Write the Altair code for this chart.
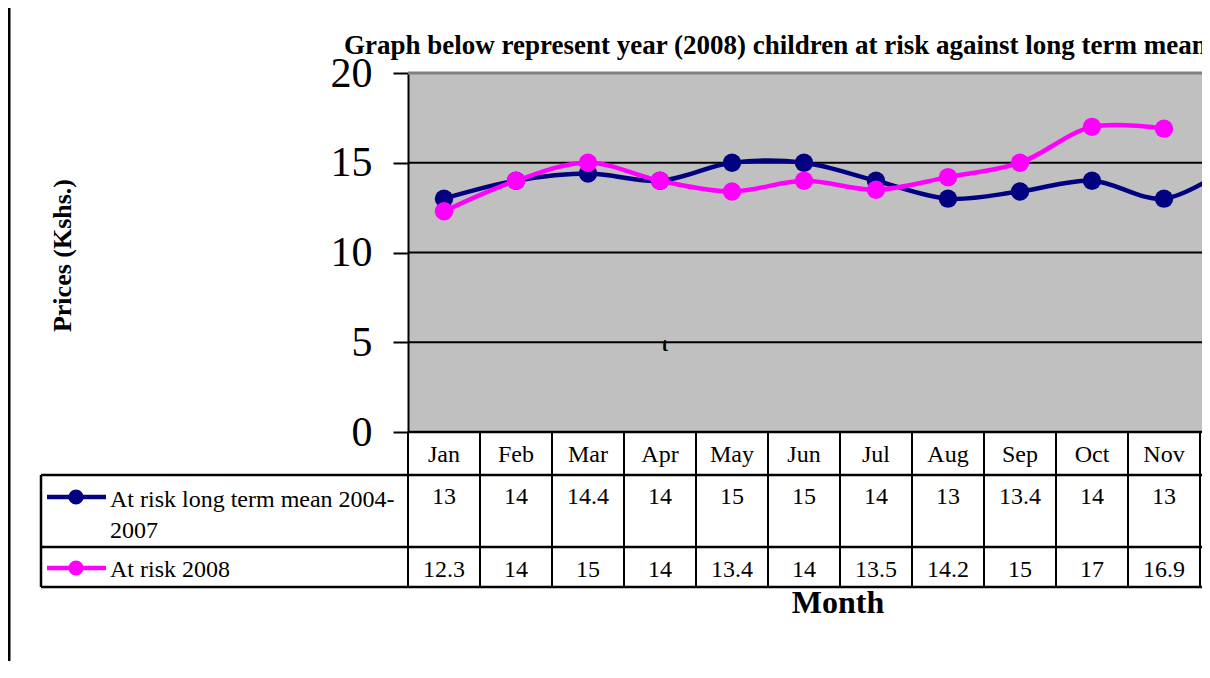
import altair as alt
import pandas as pd

# ---------------- data ----------------
months = ["Jan", "Feb", "Mar", "Apr", "May", "Jun", "Jul", "Aug", "Sep", "Oct", "Nov", "Dec"]
series_names = ["At risk long term mean 2004-2007", "At risk 2008"]
legend_lines = [["At risk long term mean 2004-", "2007"], ["At risk 2008"]]
long_term = [13, 14, 14.4, 14, 15, 15, 14, 13, 13.4, 14, 13, 15]
risk_2008 = [12.3, 14, 15, 14, 13.4, 14, 13.5, 14.2, 15, 17, 16.9]
series_colors = ["#000080", "#FF00FF"]
y_ticks = [0, 5, 10, 15, 20]
grid_vals = [5, 10, 15]
top_val = [20]
chart_title = "Graph below represent year (2008) children at risk against long term mean"
x_title = "Month"
y_title = "Prices (Kshs.)"
stray_text = "t"

# ---------------- layout ----------------
W, H = 794, 359
COLW = 72
FONT = "Liberation Serif"
x_scale = alt.Scale(domain=[0.5, 0.5 + W / COLW], nice=False, zero=False)
y_scale = alt.Scale(domain=[0, 20], nice=False, zero=True)
n_visible = int(W // COLW)  # columns whose text fits inside the visible area

y_axis = alt.Axis(values=y_ticks, title=y_title, titleFont=FONT, titleFontSize=26,
                  titleFontWeight="bold", titleColor="black", titleAngle=270,
                  titleX=-346, titleY=182, titleAlign="center", titleBaseline="middle",
                  labelFont=FONT, labelFontSize=42, labelColor="black", labelPadding=21,
                  tickSize=15, tickWidth=2, tickColor="black",
                  domainColor="black", domainWidth=2, grid=False)
Y = alt.Y("value:Q", scale=y_scale, axis=y_axis)
X = alt.X("idx:Q", scale=x_scale, axis=None)


def series_df(vals):
    return pd.DataFrame({"idx": list(range(1, len(vals) + 1)),
                         "month": months[:len(vals)],
                         "value": vals,
                         "label": [str(v) for v in vals]})


df_lt = series_df(long_term)
df_08 = series_df(risk_2008)
df_months = pd.DataFrame({"idx": list(range(1, len(months) + 1)), "month": months})
df_bounds = pd.DataFrame({"b": [i + 0.5 for i in range(len(months) + 1)]})


def visible(df):
    return df[df["idx"] <= n_visible]


def one():
    return pd.DataFrame({"k": [0]})


layers = []

# gridlines (carry the y axis)
layers.append(
    alt.Chart(pd.DataFrame({"value": grid_vals})).mark_rule(color="black", strokeWidth=2).encode(
        y=Y, x=alt.value(0), x2=alt.value(W))
)
# top border of plot area
layers.append(
    alt.Chart(pd.DataFrame({"value": top_val})).mark_rule(color="#808080", strokeWidth=3).encode(
        y=Y, x=alt.value(0), x2=alt.value(W))
)

# stray "t"
layers.append(
    alt.Chart(pd.DataFrame({"s": [stray_text]})).mark_text(
        font=FONT, fontSize=19, fontWeight="bold", color="black", align="center", baseline="middle"
    ).encode(text="s:N", x=alt.value(257), y=alt.value(272))
)

# series
for df, col in [(df_lt, series_colors[0]), (df_08, series_colors[1])]:
    base = alt.Chart(df).encode(x=X, y=Y)
    layers.append(base.mark_line(color=col, strokeWidth=4.5, interpolate="catmull-rom", clip=True))
    layers.append(base.mark_point(color=col, filled=True, opacity=1, size=340, shape="circle", clip=True))

# ---------------- data table ----------------
ROW_TOP = H            # 432 page
ROW1_TOP = 402         # 475 page
ROW2_TOP = 474         # 547 page
ROW_BOT = 514          # 587 page
TABLE_LEFT = -367      # 41 page

layers.append(
    alt.Chart(df_bounds).mark_rule(color="black", strokeWidth=2).encode(
        x=alt.X("b:Q", scale=x_scale, axis=None), y=alt.value(ROW_TOP), y2=alt.value(ROW_BOT + 1))
)
layers.append(
    alt.Chart(one()).mark_rule(color="black", strokeWidth=2.5).encode(
        x=alt.value(0), x2=alt.value(W), y=alt.value(ROW_TOP))
)
for yy in [ROW1_TOP, ROW2_TOP, ROW_BOT]:
    layers.append(
        alt.Chart(one()).mark_rule(color="black", strokeWidth=2.5).encode(
            x=alt.value(TABLE_LEFT), x2=alt.value(W), y=alt.value(yy))
    )
layers.append(
    alt.Chart(one()).mark_rule(color="black", strokeWidth=2.5).encode(
        x=alt.value(TABLE_LEFT), y=alt.value(ROW1_TOP), y2=alt.value(ROW_BOT))
)
# outer left frame
layers.append(
    alt.Chart(one()).mark_rule(color="black", strokeWidth=3).encode(
        x=alt.value(-399), y=alt.value(-65), y2=alt.value(600))
)

# month header + values
layers.append(
    alt.Chart(visible(df_months)).mark_text(font=FONT, fontSize=24, color="black",
                                            baseline="alphabetic").encode(
        x=X, y=alt.value(389), text="month:N")
)
layers.append(
    alt.Chart(visible(df_lt)).mark_text(font=FONT, fontSize=24, color="black",
                                        baseline="alphabetic").encode(
        x=X, y=alt.value(431), text="label:N")
)
layers.append(
    alt.Chart(visible(df_08)).mark_text(font=FONT, fontSize=24, color="black",
                                        baseline="alphabetic").encode(
        x=X, y=alt.value(504), text="label:N")
)
# legend keys inside the table
key_y = [424, 495]
text_y = [434, 504]
for i, col in enumerate(series_colors):
    layers.append(
        alt.Chart(one()).mark_rule(color=col, strokeWidth=4.5).encode(
            x=alt.value(-361), x2=alt.value(-302), y=alt.value(key_y[i]))
    )
    layers.append(
        alt.Chart(one()).mark_point(color=col, filled=True, opacity=1, size=230, shape="circle").encode(
            x=alt.value(-332), y=alt.value(key_y[i]))
    )
    layers.append(
        alt.Chart(one()).mark_text(font=FONT, fontSize=24, color="black", align="left",
                                   baseline="alphabetic", lineHeight=31).encode(
            x=alt.value(-298), y=alt.value(text_y[i]), text=alt.value(legend_lines[i]))
    )

# titles
layers.append(
    alt.Chart(one()).mark_text(font=FONT, fontSize=27, fontWeight="bold", color="black",
                               align="left", baseline="alphabetic").encode(
        x=alt.value(-64), y=alt.value(-19), text=alt.value(chart_title))
)
layers.append(
    alt.Chart(one()).mark_text(font=FONT, fontSize=32, fontWeight="bold", color="black",
                               align="center", baseline="alphabetic").encode(
        x=alt.value(430), y=alt.value(540), text=alt.value(x_title))
)

chart = alt.layer(*layers).properties(
    width=W, height=H,
    autosize=alt.AutoSizeParams(type="none"),
    padding={"left": 400, "top": 65, "right": 0, "bottom": 229},
    background="white",
).configure_view(fill="#C0C0C0", stroke="transparent")

chart.save("out.html", embed_options={"renderer": "svg", "actions": False})
